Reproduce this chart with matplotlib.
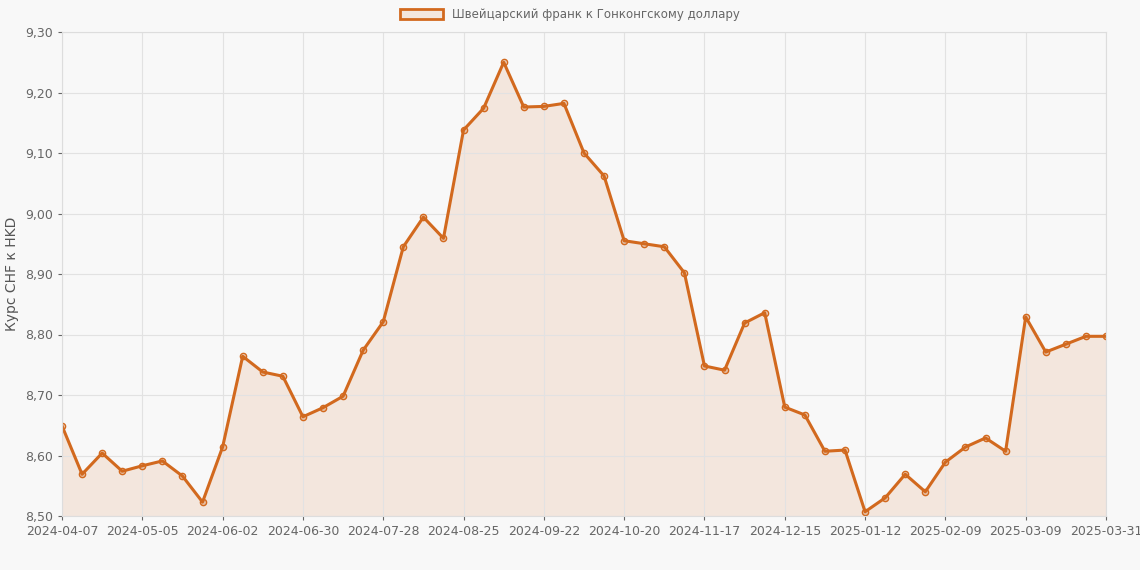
import matplotlib
matplotlib.use("Agg")
import matplotlib.pyplot as plt
import matplotlib.patches as mpatches
import numpy as np
import datetime as dt

start = dt.date(2024, 4, 7)
dates = [(start + dt.timedelta(weeks=i)).isoformat() for i in range(52)] + ["2025-03-31"]
values = [8.649, 8.569, 8.604, 8.574, 8.583, 8.591, 8.566, 8.523, 8.614, 8.764,
          8.738, 8.731, 8.664, 8.679, 8.698, 8.774, 8.821, 8.945, 8.994, 8.959,
          9.138, 9.174, 9.250, 9.176, 9.177, 9.182, 9.100, 9.062, 8.955, 8.950,
          8.945, 8.902, 8.748, 8.741, 8.819, 8.836, 8.680, 8.667, 8.607, 8.609,
          8.507, 8.530, 8.569, 8.540, 8.589, 8.614, 8.629, 8.607, 8.829, 8.771,
          8.784, 8.797, 8.797]
series_name = "Швейцарский франк к Гонконгскому доллару"
ylabel = "Курс CHF к HKD"

color = "#D2691E"
bg = "#f8f8f8"
fig = plt.figure(figsize=(11.4, 5.7), dpi=100, facecolor=bg)
ax = fig.add_axes([62/1140, 1-516/570, (1106-62)/1140, (516-32)/570], facecolor=bg)
x = np.arange(len(values))
ax.fill_between(x, 8.5, values, color=color, alpha=0.12, lw=0)
ax.plot(x, values, color=color, lw=2.2, marker="o", ms=4.5, mfc=(0.82, 0.41, 0.12, 0.3), mec=color, mew=1)
ax.set_xlim(0, len(values)-1)
ax.set_ylim(8.5, 9.3)
ticks = [t for t in range(0, len(values)-1, 4) if t <= 48] + [len(values)-1]
ax.set_xticks(ticks)
ax.set_xticklabels([dates[t] for t in ticks])
yt = np.round(np.arange(8.5, 9.31, 0.1), 2)
ax.set_yticks(yt)
ax.set_yticklabels([f"{v:.2f}".replace(".", ",") for v in yt])
ax.grid(True, color="#e2e2e2", lw=0.8)
for s in ax.spines.values():
    s.set_color("#dddddd")
ax.tick_params(colors="#666666", labelsize=9, length=3)
ax.set_ylabel(ylabel, color="#555555", fontsize=10)
h = mpatches.Patch(facecolor=(0.82, 0.41, 0.12, 0.12), edgecolor=color, lw=2)
fig.legend([h], [series_name], loc="upper center", bbox_to_anchor=(0.5, 1.005),
           frameon=False, fontsize=8.5, labelcolor="#666666", handlelength=3.6, handleheight=0.9)
fig.savefig("out.png", dpi=100, facecolor=bg)
